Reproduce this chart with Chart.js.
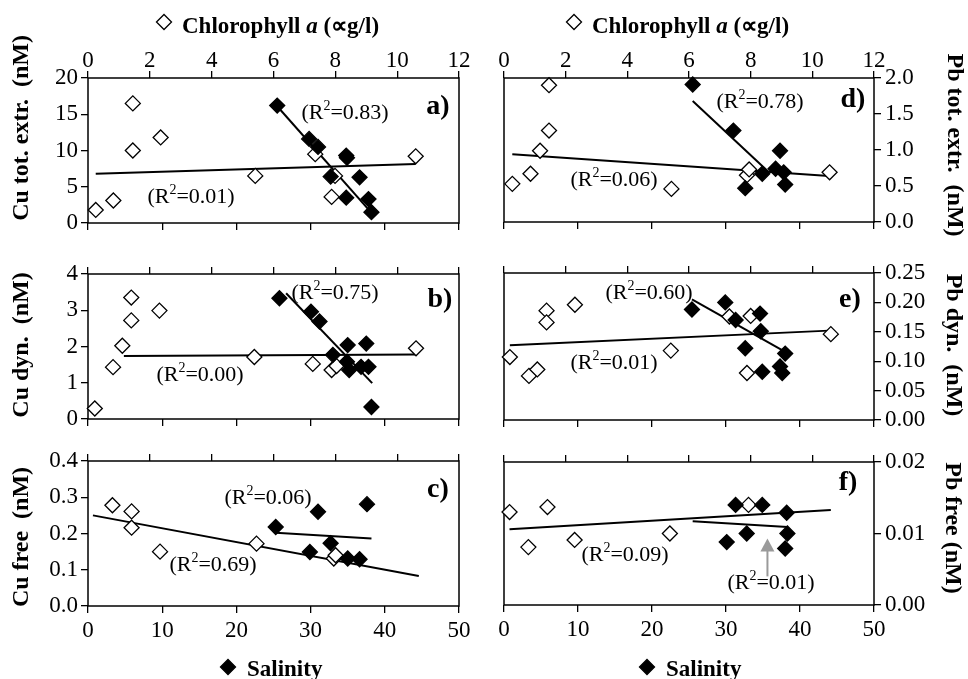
<!DOCTYPE html>
<html>
<head>
<meta charset="utf-8">
<title>Cu and Pb vs chlorophyll a and salinity</title>
<script src="https://cdn.jsdelivr.net/npm/chart.js@4.4.1/dist/chart.umd.min.js"></script>
<style>
  body { margin: 0; background: #fff; }
  #wrap { position: relative; width: 968px; height: 679px; overflow: hidden; }
  canvas { position: absolute; }
</style>
</head>
<body>
<div id="wrap">
  <canvas id="cu-tot" width="480" height="240" style="left:0;top:0"></canvas>
  <canvas id="cu-dyn" width="480" height="200" style="left:0;top:240px"></canvas>
  <canvas id="cu-free" width="480" height="249" style="left:0;top:430px"></canvas>
  <canvas id="pb-tot" width="488" height="240" style="left:480px;top:0"></canvas>
  <canvas id="pb-dyn" width="488" height="200" style="left:480px;top:240px"></canvas>
  <canvas id="pb-free" width="488" height="249" style="left:480px;top:430px"></canvas>
</div>
<script>
(function () {
    "use strict";

    // Axis ranges [min, max, step]
    var chlRange = [0, 12, 2];
    var salRange = [0, 50, 10];
    var cuTotRange = [0, 20, 5];
    var cuDynRange = [0, 4, 1];
    var cuFreeRange = [0, 0.4, 0.1];
    var pbTotRange = [0, 2, 0.5];
    var pbDynRange = [0, 0.25, 0.05];
    var pbFreeRange = [0, 0.02, 0.01];

    // Cu total extractable (nM): [chlorophyll, value] and [salinity, value]
    var cuTotChl = [[0.25, 1.8], [0.82, 3.1], [1.45, 16.5], [1.45, 10.0], [2.35, 11.8], [5.41, 6.5], [7.35, 9.5], [7.88, 3.6], [7.99, 6.5], [10.6, 9.2]];
    var cuTotSal = [[25.5, 16.2], [29.8, 11.6], [31.0, 10.5], [32.7, 6.4], [34.8, 9.3], [34.9, 9.0], [34.8, 3.5], [36.6, 6.3], [37.8, 3.3], [38.2, 1.5]];
    var cuTotChlFit = [[0.25, 6.8], [10.6, 8.15]];
    var cuTotSalFit = [[25.5, 16.1], [38.3, 1.3]];

    // Cu dynamic (nM)
    var cuDynChl = [[0.22, 0.29], [0.81, 1.43], [1.11, 2.02], [1.40, 3.35], [1.40, 2.72], [2.31, 2.99], [5.38, 1.71], [7.27, 1.52], [7.88, 1.35], [8.04, 1.46], [10.61, 1.95]];
    var cuDynSal = [[25.8, 3.33], [30.05, 2.96], [31.2, 2.69], [33.0, 1.77], [34.9, 1.58], [35.0, 2.04], [35.2, 1.35], [36.8, 1.44], [37.5, 2.08], [37.8, 1.44], [38.2, 0.33]];
    var cuDynChlFit = [[1.16, 1.74], [10.6, 1.78]];
    var cuDynSalFit = [[26.7, 3.47], [38.3, 0.99]];

    // Cu free (nM)
    var cuFreeChl = [[0.79, 0.278], [1.41, 0.261], [1.41, 0.216], [2.33, 0.150], [5.45, 0.172], [7.95, 0.131], [8.01, 0.140]];
    var cuFreeSal = [[25.3, 0.218], [29.9, 0.149], [31.0, 0.260], [32.7, 0.173], [35.0, 0.131], [36.6, 0.129], [37.6, 0.281]];
    var cuFreeChlFit = [[0.16, 0.250], [10.7, 0.083]];
    var cuFreeSalFit = [[25.3, 0.202], [38.2, 0.186]];

    // Pb total extractable (nM)
    var pbTotChl = [[0.27, 0.53], [0.86, 0.67], [1.17, 0.99], [1.46, 1.90], [1.46, 1.27], [5.43, 0.46], [7.88, 0.65], [7.95, 0.73], [10.56, 0.69]];
    var pbTotSal = [[25.5, 1.91], [31.0, 1.27], [32.6, 0.47], [34.9, 0.67], [36.7, 0.74], [37.3, 0.99], [37.8, 0.69], [38.0, 0.52]];
    var pbTotChlFit = [[0.27, 0.94], [10.54, 0.64]];
    var pbTotSalFit = [[25.5, 1.68], [35.8, 0.69]];

    // Pb dynamic (nM)
    var pbDynChl = [[0.19, 0.107], [0.81, 0.075], [1.08, 0.086], [1.38, 0.186], [1.38, 0.166], [2.30, 0.196], [5.41, 0.118], [7.31, 0.176], [7.88, 0.080], [8.0, 0.177], [10.6, 0.146]];
    var pbDynSal = [[25.4, 0.188], [29.9, 0.200], [31.3, 0.170], [32.6, 0.122], [34.6, 0.181], [34.7, 0.151], [34.9, 0.082], [37.3, 0.091], [37.6, 0.080], [38.0, 0.113]];
    var pbDynChlFit = [[0.19, 0.127], [10.54, 0.152]];
    var pbDynSalFit = [[25.4, 0.205], [38.0, 0.116]];

    // Pb free (nM)
    var pbFreeChl = [[0.18, 0.0130], [0.79, 0.0081], [1.41, 0.0137], [2.29, 0.0091], [5.38, 0.0100], [7.93, 0.0140]];
    var pbFreeSal = [[30.1, 0.0088], [31.3, 0.0140], [32.8, 0.0100], [34.9, 0.0140], [38.0, 0.0079], [38.2, 0.0129], [38.3, 0.0100]];
    var pbFreeChlFit = [[0.18, 0.0106], [10.6, 0.0133]];
    var pbFreeSalFit = [[25.5, 0.0117], [38.3, 0.0109]];
    // arrow pointing at the salinity fit: [salinity, from, to]
    var pbFreeArrow = [35.6, 0.0040, 0.0093];


    var serif = "'Liberation Serif', 'Times New Roman', serif";
    Chart.defaults.font.family = serif;
    Chart.defaults.color = "#000";

    function pts(list) {
        return list.map(function (p) { return { x: p[0], y: p[1] }; });
    }

    function tickGrid() {
        return { drawOnChartArea: false, drawTicks: true, tickLength: 7, color: "#000", lineWidth: 1.3 };
    }

    function xAxis(pos, range, labels, h, pad) {
        return {
            type: "linear", position: pos, min: range[0], max: range[1],
            ticks: { stepSize: range[2], display: labels, padding: pad, maxRotation: 0, autoSkip: false, font: { size: 23 }, color: "#000" },
            grid: tickGrid(),
            border: { display: false },
            afterFit: function (s) { s.height = h; }
        };
    }

    function diamond(ctx, x, y, r, filled) {
        ctx.beginPath();
        ctx.moveTo(x - r, y);
        ctx.lineTo(x, y - r);
        ctx.lineTo(x + r, y);
        ctx.lineTo(x, y + r);
        ctx.closePath();
        ctx.fillStyle = filled ? "#000" : "#fff";
        ctx.fill();
        ctx.lineWidth = 1.3;
        ctx.strokeStyle = "#000";
        ctx.stroke();
    }

    // "(R2=0.83)" with a raised 2, centred on x, y
    function drawR2(ctx, txt, x, y) {
        var big = "22px " + serif, small = "14px " + serif;
        ctx.font = big;
        var w1 = ctx.measureText("(R").width;
        var w3 = ctx.measureText("=" + txt + ")").width;
        ctx.font = small;
        var w2 = ctx.measureText("2").width;
        var x0 = x - (w1 + w2 + w3) / 2;
        ctx.fillStyle = "#000";
        ctx.textAlign = "left";
        ctx.textBaseline = "alphabetic";
        ctx.font = big;
        ctx.fillText("(R", x0, y + 6);
        ctx.font = small;
        ctx.fillText("2", x0 + w1, y - 3);
        ctx.font = big;
        ctx.fillText("=" + txt + ")", x0 + w1 + w2, y + 6);
    }

    function chlTitle(ctx, x, y) {
        diamond(ctx, x, y - 11, 7.5, false);
        var tx = x + 18;
        ctx.fillStyle = "#000";
        ctx.textAlign = "left";
        ctx.textBaseline = "alphabetic";
        ctx.font = "bold 23px " + serif;
        ctx.fillText("Chlorophyll ", tx, y);
        tx += ctx.measureText("Chlorophyll ").width;
        ctx.font = "italic bold 23px " + serif;
        ctx.fillText("a", tx, y);
        tx += ctx.measureText("a").width;
        ctx.font = "bold 23px " + serif;
        ctx.fillText(" (\u221Dg/l)", tx, y);
    }

    function salTitle(ctx, x, y) {
        diamond(ctx, x, y - 9, 7.5, true);
        ctx.fillStyle = "#000";
        ctx.textAlign = "left";
        ctx.textBaseline = "alphabetic";
        ctx.font = "bold 23px " + serif;
        ctx.fillText("Salinity", x + 19, y);
    }

    function makePanel(id, p) {
        var right = p.side === "right";

        var notes = {
            id: "notes",
            beforeDatasetsDraw: function (chart) {
                var a = chart.chartArea, ctx = chart.ctx;
                ctx.save();
                ctx.lineWidth = 1.5;
                ctx.strokeStyle = "#000";
                ctx.strokeRect(a.left, a.top, a.right - a.left, a.bottom - a.top);
                ctx.restore();
            },
            afterDraw: function (chart) {
                var ctx = chart.ctx;
                ctx.save();
                p.r2.forEach(function (r) { drawR2(ctx, r[0], r[1], r[2]); });

                ctx.fillStyle = "#000";
                ctx.font = "bold 28px " + serif;
                ctx.textAlign = "center";
                ctx.textBaseline = "middle";
                ctx.fillText(p.letter[0], p.letter[1], p.letter[2]);

                ctx.save();
                ctx.translate(p.yTitle[1], p.yTitle[2]);
                ctx.rotate(right ? Math.PI / 2 : -Math.PI / 2);
                ctx.font = "bold 24px " + serif;
                ctx.fillText(p.yTitle[0], 0, 0);
                ctx.restore();

                if (p.chlTitle) chlTitle(ctx, p.chlTitle[0], p.chlTitle[1]);
                if (p.salTitle) salTitle(ctx, p.salTitle[0], p.salTitle[1]);

                if (p.arrow) {
                    var sx = chart.scales.xs, sy = chart.scales.y;
                    var ax = sx.getPixelForValue(p.arrow[0]);
                    var y0 = sy.getPixelForValue(p.arrow[1]);
                    var y1 = sy.getPixelForValue(p.arrow[2]);
                    ctx.strokeStyle = "#9a9a9a";
                    ctx.fillStyle = "#9a9a9a";
                    ctx.lineWidth = 2;
                    ctx.beginPath();
                    ctx.moveTo(ax, y0);
                    ctx.lineTo(ax, y1 + 10);
                    ctx.stroke();
                    ctx.beginPath();
                    ctx.moveTo(ax, y1);
                    ctx.lineTo(ax - 7, y1 + 13);
                    ctx.lineTo(ax + 7, y1 + 13);
                    ctx.closePath();
                    ctx.fill();
                }
                ctx.restore();
            }
        };

        var ctx = document.getElementById(id).getContext("2d");
        return new Chart(ctx, {
            type: "scatter",
            data: {
                datasets: [{
                    type: "line", data: pts(p.chlFit), xAxisID: "xc",
                    borderColor: "#000", borderWidth: 2, pointRadius: 0, fill: false, order: 3
                }, {
                    type: "line", data: pts(p.salFit), xAxisID: "xs",
                    borderColor: "#000", borderWidth: 2, pointRadius: 0, fill: false, order: 3
                }, {
                    label: "Chlorophyll a", data: pts(p.chl), xAxisID: "xc",
                    pointStyle: "rectRot", pointRadius: 7.5, borderWidth: 1.3,
                    backgroundColor: "#fff", borderColor: "#000", clip: false, order: 2
                }, {
                    label: "Salinity", data: pts(p.sal), xAxisID: "xs",
                    pointStyle: "rectRot", pointRadius: 7.5, borderWidth: 1.3,
                    backgroundColor: "#000", borderColor: "#000", clip: false, order: 1
                }]
            },
            options: {
                responsive: false,
                animation: false,
                events: [],
                layout: { padding: right ? { left: 24 } : { right: 21 } },
                plugins: { legend: { display: false }, tooltip: { enabled: false } },
                scales: {
                    xc: xAxis("top", chlRange, p.row === 1, p.topH, -4),
                    xs: xAxis("bottom", salRange, p.row === 3, p.botH, 4),
                    y: {
                        type: "linear", position: p.side, min: p.yRange[0], max: p.yRange[1],
                        ticks: {
                            stepSize: p.yRange[2], autoSkip: false, padding: right ? 4 : 3,
                            font: { size: 23 }, color: "#000",
                            callback: function (v) { return v.toFixed(p.dec); }
                        },
                        grid: tickGrid(),
                        border: { display: false },
                        afterFit: function (s) { s.width = right ? 94 : 88; }
                    }
                }
            },
            plugins: [notes]
        });
    }


    // Cu tot. extr.
    makePanel("cu-tot", {
        side: "left", row: 1, topH: 78, botH: 17, yRange: cuTotRange, dec: 0,
        chl: cuTotChl, sal: cuTotSal, chlFit: cuTotChlFit, salFit: cuTotSalFit,
        r2: [["0.83", 345, 113], ["0.01", 191, 197]],
        letter: ["a)", 438, 107], yTitle: ["Cu tot. extr.  (nM)", 22, 128],
        chlTitle: [164, 33]
    });

    // Cu dyn.
    makePanel("cu-dyn", {
        side: "left", row: 2, topH: 34, botH: 21, yRange: cuDynRange, dec: 0,
        chl: cuDynChl, sal: cuDynSal, chlFit: cuDynChlFit, salFit: cuDynSalFit,
        r2: [["0.75", 335, 53], ["0.00", 200, 135]],
        letter: ["b)", 440, 60], yTitle: ["Cu dyn.  (nM)", 22, 105]
    });

    // Cu free
    makePanel("cu-free", {
        side: "left", row: 3, topH: 31, botH: 73, yRange: cuFreeRange, dec: 1,
        chl: cuFreeChl, sal: cuFreeSal, chlFit: cuFreeChlFit, salFit: cuFreeSalFit,
        r2: [["0.06", 268, 68], ["0.69", 213, 135]],
        letter: ["c)", 438, 60], yTitle: ["Cu free  (nM)", 22, 107],
        salTitle: [228, 246]
    });

    // Pb tot. extr.
    makePanel("pb-tot", {
        side: "right", row: 1, topH: 78, botH: 18, yRange: pbTotRange, dec: 1,
        chl: pbTotChl, sal: pbTotSal, chlFit: pbTotChlFit, salFit: pbTotSalFit,
        r2: [["0.78", 280, 102], ["0.06", 134, 180]],
        letter: ["d)", 373, 100], yTitle: ["Pb tot. extr.  (nM)", 474, 145],
        chlTitle: [94, 33]
    });

    // Pb dyn.
    makePanel("pb-dyn", {
        side: "right", row: 2, topH: 33, botH: 20, yRange: pbDynRange, dec: 2,
        chl: pbDynChl, sal: pbDynSal, chlFit: pbDynChlFit, salFit: pbDynSalFit,
        r2: [["0.60", 169, 53], ["0.01", 134, 123]],
        letter: ["e)", 370, 60], yTitle: ["Pb dyn.  (nM)", 473, 105]
    });

    // Pb free
    makePanel("pb-free", {
        side: "right", row: 3, topH: 32, botH: 74, yRange: pbFreeRange, dec: 2,
        chl: pbFreeChl, sal: pbFreeSal, chlFit: pbFreeChlFit, salFit: pbFreeSalFit,
        r2: [["0.09", 145, 125], ["0.01", 291, 153]],
        letter: ["f)", 368, 53], yTitle: ["Pb free (nM)", 472, 98],
        salTitle: [167, 246], arrow: pbFreeArrow
    });

})();
</script>
</body>
</html>
